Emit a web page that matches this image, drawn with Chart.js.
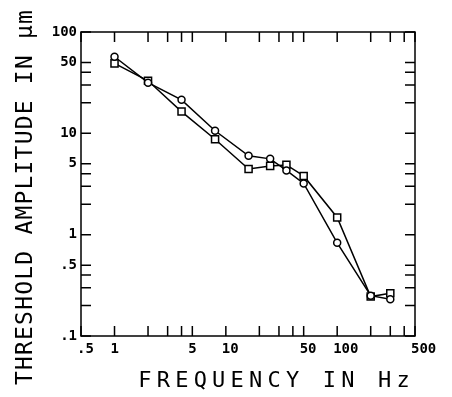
<!DOCTYPE html>
<html>
<head>
<meta charset="utf-8">
<script src="https://cdn.jsdelivr.net/npm/chart.js@4.4.1/dist/chart.umd.min.js"></script>
<style>
  html, body { margin: 0; padding: 0; background: #fff; }
</style>
</head>
<body>
<canvas id="chart" width="452" height="397"></canvas>
<script>
// frequency (Hz) and threshold amplitude (um)
const frequencies = [1, 2, 4, 8, 16, 25, 35, 50, 100, 200, 300];
const circleSeries = [57, 31.6, 21.4, 10.6, 6.0, 5.6, 4.3, 3.2, 0.83, 0.25, 0.23];
const squareSeries = [49, 33, 16.4, 8.75, 4.45, 4.77, 4.88, 3.8, 1.48, 0.245, 0.264];

const xTickValues = [0.5, 1, 2, 3, 4, 5, 10, 20, 30, 40, 50, 100, 200, 300, 400, 500];
const xLabelValues = [0.5, 1, 5, 10, 50, 100, 500];
const xTickLabels = [".5", "1", "5", "10", "50", "100", "500"];

const yTickValues = [0.1, 0.2, 0.3, 0.4, 0.5, 1, 2, 3, 4, 5, 10, 20, 30, 40, 50, 100];
const yLabelValues = [0.1, 0.5, 1, 5, 10, 50, 100];
const yTickLabels = [".1", ".5", "1", "5", "10", "50", "100"];

const MONO = "'DejaVu Sans Mono', monospace";

// box round the plot with short inward ticks on all four sides
const frameTicks = {
  id: "frameTicks",
  beforeDatasetsDraw(chart) {
    const { ctx, chartArea: a, scales } = chart;
    const len = 10;
    ctx.save();
    ctx.strokeStyle = "#000";
    ctx.lineWidth = 1.5;
    ctx.strokeRect(a.left, a.top, a.right - a.left, a.bottom - a.top);
    ctx.beginPath();
    xTickValues.forEach((v) => {
      const px = scales.x.getPixelForValue(v);
      ctx.moveTo(px, a.bottom);
      ctx.lineTo(px, a.bottom - len);
      ctx.moveTo(px, a.top);
      ctx.lineTo(px, a.top + len);
    });
    yTickValues.forEach((v) => {
      const py = scales.y.getPixelForValue(v);
      ctx.moveTo(a.left, py);
      ctx.lineTo(a.left + len, py);
      ctx.moveTo(a.right, py);
      ctx.lineTo(a.right - len, py);
    });
    ctx.stroke();
    ctx.restore();
  },
};

// wide plotter-style spacing for the axis titles
const titleStyle = {
  id: "titleStyle",
  afterLayout(chart) {
    [["x", 5.2, 0, 0], ["y", 1.2, 0, 13]].forEach(([id, spacing, dx, dy]) => {
      const scale = chart.scales[id];
      if (scale._styledTitle) return;
      const draw = scale.drawTitle;
      scale.drawTitle = function () {
        const ctx = this.ctx;
        ctx.save();
        ctx.letterSpacing = spacing + "px";
        ctx.translate(dx, dy);
        draw.call(this);
        ctx.restore();
      };
      scale._styledTitle = true;
    });
  },
};

const ctx = document.getElementById("chart").getContext("2d");

new Chart(ctx, {
  type: "line",
  data: {
    datasets: [
      {
        label: "circles",
        data: frequencies.map((f, i) => ({ x: f, y: circleSeries[i] })),
        borderColor: "#000",
        borderWidth: 1.5,
        pointStyle: "circle",
        pointRadius: 3.5,
        pointBorderWidth: 1.5,
        pointBackgroundColor: "#fff",
        pointBorderColor: "#000",
        tension: 0,
      },
      {
        label: "squares",
        data: frequencies.map((f, i) => ({ x: f, y: squareSeries[i] })),
        borderColor: "#000",
        borderWidth: 1.5,
        pointStyle: "rect",
        pointRadius: 5,
        pointBorderWidth: 1.5,
        pointBackgroundColor: "#fff",
        pointBorderColor: "#000",
        tension: 0,
      },
    ],
  },
  options: {
    responsive: false,
    animation: false,
    layout: { padding: { top: 32, right: 37, left: 0, bottom: 0 } },
    plugins: {
      legend: { display: false },
      tooltip: { enabled: false },
    },
    scales: {
      x: {
        type: "logarithmic",
        min: 0.5,
        max: 500,
        afterBuildTicks: (scale) => {
          scale.ticks = xTickValues.map((v) => ({ value: v }));
        },
        afterFit: (scale) => {
          scale.height = 61;
        },
        grid: { display: false, drawTicks: false },
        border: { display: false },
        ticks: {
          autoSkip: false,
          maxRotation: 0,
          align: "start",
          labelOffset: -4,
          padding: 5,
          color: "#000",
          font: { family: MONO, size: 14, weight: "bold" },
          callback: (v) => {
            const i = xLabelValues.indexOf(v);
            return i >= 0 ? xTickLabels[i] : "";
          },
        },
        title: {
          display: true,
          text: "FREQUENCY IN Hz",
          align: "end",
          color: "#000",
          padding: { top: 0, bottom: 3 },
          font: { family: MONO, size: 22, weight: "normal" },
        },
      },
      y: {
        type: "logarithmic",
        min: 0.1,
        max: 100,
        afterBuildTicks: (scale) => {
          scale.ticks = yTickValues.map((v) => ({ value: v }));
        },
        afterFit: (scale) => {
          scale.width = 81;
        },
        grid: { display: false, drawTicks: false },
        border: { display: false },
        ticks: {
          autoSkip: false,
          padding: 4,
          color: "#000",
          font: { family: MONO, size: 14, weight: "bold" },
          callback: (v) => {
            const i = yLabelValues.indexOf(v);
            return i >= 0 ? yTickLabels[i] : "";
          },
        },
        title: {
          display: true,
          text: "THRESHOLD AMPLITUDE IN μm",
          color: "#000",
          padding: { top: 12, bottom: 0 },
          font: { family: MONO, size: 23, weight: "normal" },
        },
      },
    },
  },
  plugins: [frameTicks, titleStyle],
});
</script>
</body>
</html>
